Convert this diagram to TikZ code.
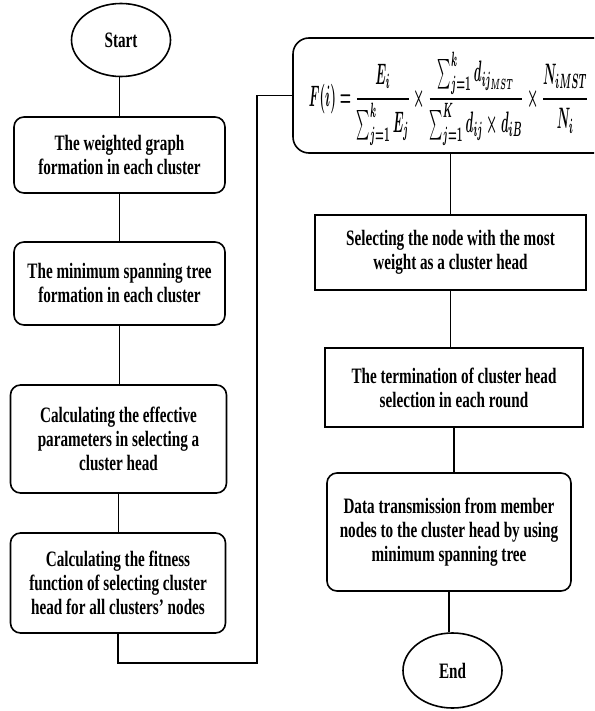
\documentclass[tikz,border=0pt]{standalone}
\usepackage{amsmath}
\usepackage{fontspec}
\setmainfont{Liberation Serif}[FakeStretch=0.69]
\usetikzlibrary{shapes.geometric}
\begin{document}
\begin{tikzpicture}[x=1pt,y=-1pt,
  line width=1.6pt,
  txt/.style={font=\fontsize{22}{24}\selectfont\bfseries, align=center, inner sep=0pt},
  rbox/.style={txt, draw, rounded corners=10pt},
  sbox/.style={txt, draw},
  term/.style={txt, draw, ellipse, inner sep=0pt}]
\clip (0,0) rectangle (594,711);
\useasboundingbox (0,0) rectangle (594,711);
\node[term, minimum width=99pt, minimum height=73pt] (start) at (121,40) {Start};
\node[rbox, minimum width=211pt, minimum height=76pt] (b1) at (119.5,155) {The weighted graph\\formation in each cluster};
\node[rbox, minimum width=211pt, minimum height=83pt] (b2) at (119.5,283.5) {The minimum spanning tree\\formation in each cluster};
\node[rbox, minimum width=216pt, minimum height=108pt] (b3) at (118.5,439) {Calculating the effective\\parameters in selecting a\\cluster head};
\node[rbox, minimum width=215pt, minimum height=100pt] (b4) at (118,583) {Calculating the fitness\\function of selecting cluster\\head for all clusters' nodes};
\node[draw, rounded corners=16pt, minimum width=327pt, minimum height=115pt, inner sep=0pt] (f) at (456.5,95.5) {};
\node[anchor=west, inner sep=0pt] (fx) at (308,99) {\resizebox{280pt}{54pt}{\boldmath$F(i)=\dfrac{E_i}{\sum_{j=1}^{k}E_j}\times\dfrac{\sum_{j=1}^{k}d_{ij_{MST}}}{\sum_{j=1}^{K}d_{ij}\times d_{iB}}\times\dfrac{N_{iMST}}{N_i}$}};
\node[sbox, minimum width=271pt, minimum height=75pt] (s1) at (450.5,252.5) {Selecting the node with the most\\weight as a cluster head};
\node[sbox, minimum width=258pt, minimum height=79pt] (s2) at (454,387.5) {The termination of cluster head\\selection in each round};
\node[rbox, minimum width=244pt, minimum height=118pt] (s3) at (449,532) {Data transmission from member\\nodes to the cluster head by using\\minimum spanning tree};
\node[term, minimum width=99pt, minimum height=75pt] (end) at (452.5,670.5) {End};
\coordinate (turn) at (257,663);
\draw (b1.north) -- (b1.north |- start.south);
\draw (b1.south) -- (b1.south |- b2.north);
\draw (b2.south) -- (b2.south |- b3.north);
\draw (b3.south) -- (b3.south |- b4.north);
\draw (b4.south) |- (turn) |- (f.west);
\draw (s1.north) -- (s1.north |- f.south);
\draw (s1.south) -- (s1.south |- s2.north);
\draw (s2.south) -- (s2.south |- s3.north);
\draw (s3.south) -- (s3.south |- end.north);
\end{tikzpicture}
\end{document}
